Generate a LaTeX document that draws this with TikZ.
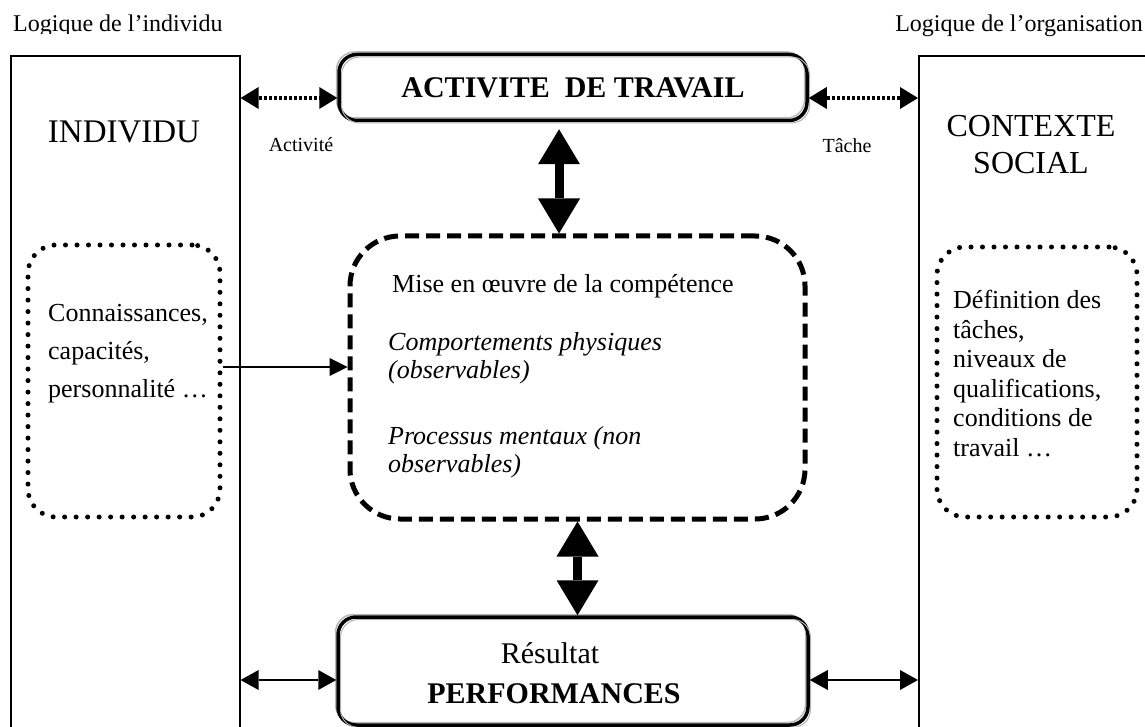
\documentclass[tikz,border=0pt]{standalone}
\usepackage{fontspec}
\setmainfont{Liberation Serif}
\usetikzlibrary{arrows.meta}

\begin{document}
\begin{tikzpicture}[x=1pt,y=-1pt,
  frame/.style={draw, line width=1.6pt, inner sep=0pt},
  shadowbox/.style={draw, line width=3.5pt, rounded corners=18pt, inner sep=0pt,
    preaction={draw=gray!55, line width=1.5pt, transform canvas={shift={(-2.5pt,2.5pt)}}},
    postaction={draw=gray!60, line width=1pt, transform canvas={shift={(2.5pt,-2.5pt)}}}},
  dashbox/.style={draw, line width=5pt, dash pattern=on 14pt off 7pt, rounded corners=50pt, inner sep=0pt},
  dotbox/.style={draw, line width=5pt, dash pattern=on 0pt off 11.5pt, line cap=round, rounded corners=28pt, inner sep=0pt},
  dotarrow/.style={<->, >={Triangle[length=18pt,width=22pt,line width=0pt]}, line width=3.5pt, dash pattern=on 3pt off 2pt},
  thinarrow/.style={<->, >={Triangle[length=18pt,width=20pt,line width=0pt]}, line width=1.6pt},
  onearrow/.style={->, >={Triangle[length=18pt,width=18pt,line width=0pt]}, line width=1.3pt},
  bigarrow/.style={<->, >={Triangle[length=35pt,width=42pt,line width=0pt]}, line width=9pt},
  txt/.style={inner sep=0pt, anchor=base west},
  ctxt/.style={inner sep=0pt, anchor=base, align=center}
]
\useasboundingbox (0,0) rectangle (1145,727);

% side frames (open at the bottom of the page)
\node[frame, minimum width=229pt, minimum height=720pt, anchor=north west] (indiv) at (10,55) {};
\node[frame, minimum width=260pt, minimum height=720pt, anchor=north west] (soc) at (918,55) {};

% central boxes
\node[shadowbox, minimum width=468pt, minimum height=66pt] (act) at (573,87.5)
  {\fontsize{30}{36}\selectfont\bfseries ACTIVITE\ \ DE TRAVAIL};
\node[dashbox, minimum width=455pt, minimum height=283pt] (mise) at (577.5,377.5) {};
\node[shadowbox, minimum width=470pt, minimum height=108pt] (perf) at (573,671) {};

% dotted boxes
\node[dotbox, minimum width=192pt, minimum height=272pt] (know) at (124,381) {};
\node[dotbox, minimum width=200pt, minimum height=270pt] (ctx) at (1037,382) {};

% headings
\begin{scope}
  \clip (0,0) rectangle (400,33.5);
  \node[txt, font=\fontsize{24}{28}\selectfont] (lind) at (13,32) {Logique de l’individu};
\end{scope}
\node[inner sep=0pt, anchor=base east, font=\fontsize{24}{28}\selectfont] (lorg) at (1143,32) {Logique de l’organisation};

\node[ctxt, font=\fontsize{20}{24}\selectfont] (lact) at (301,152) {Activité};
\node[ctxt, font=\fontsize{20}{24}\selectfont] (ltache) at (847,153) {Tâche};

% multi-line nodes are placed by the baseline of their last line
\node[ctxt, font=\fontsize{33}{38}\selectfont] (lindiv) at (124,143) {INDIVIDU};
\node[ctxt, font=\fontsize{32}{37}\selectfont] (lsoc) at (1031,174) {CONTEXTE\\SOCIAL};

% box contents
\node[txt, align=left, font=\fontsize{26}{38}\selectfont] (tknow) at (48,397)
  {Connaissances,\\capacités,\\personnalité …};
\node[txt, align=left, font=\fontsize{26}{29.5}\selectfont] (tctx) at (953,456)
  {Définition des\\tâches,\\niveaux de\\qualifications,\\conditions de\\travail …};
\node[txt, font=\fontsize{26}{28}\selectfont] (tmise) at (392,292) {Mise en œuvre de la compétence};
\node[txt, align=left, font=\fontsize{26}{28}\selectfont\itshape] (tphys) at (388,378)
  {Comportements physiques\\(observables)};
\node[txt, align=left, font=\fontsize{26}{28}\selectfont\itshape] (tment) at (388,472)
  {Processus mentaux (non\\observables)};
\node[ctxt, font=\fontsize{30}{36}\selectfont] (tres) at (550,663) {Résultat};
\node[ctxt, font=\fontsize{30}{36}\selectfont\bfseries] (tperf) at (554,703) {PERFORMANCES};

% connectors
\coordinate (yTop) at (0,98);
\coordinate (yMid) at (0,367);
\coordinate (yBot) at (0,680);
\coordinate (xUp) at (559,0);

\draw[dotarrow] (indiv.east |- yTop) -- (act.west |- yTop);
\draw[dotarrow] (act.east |- yTop) -- (soc.west |- yTop);
\draw[bigarrow, shorten <=7pt] (act.south -| xUp) -- (mise.north -| xUp);
\draw[bigarrow] (mise.south) -- (mise.south |- perf.north);
\draw[onearrow] (know.east |- yMid) -- (mise.west |- yMid);
\draw[thinarrow] (indiv.east |- yBot) -- (perf.west |- yBot);
\draw[thinarrow] (perf.east |- yBot) -- (soc.west |- yBot);
\end{tikzpicture}
\end{document}
